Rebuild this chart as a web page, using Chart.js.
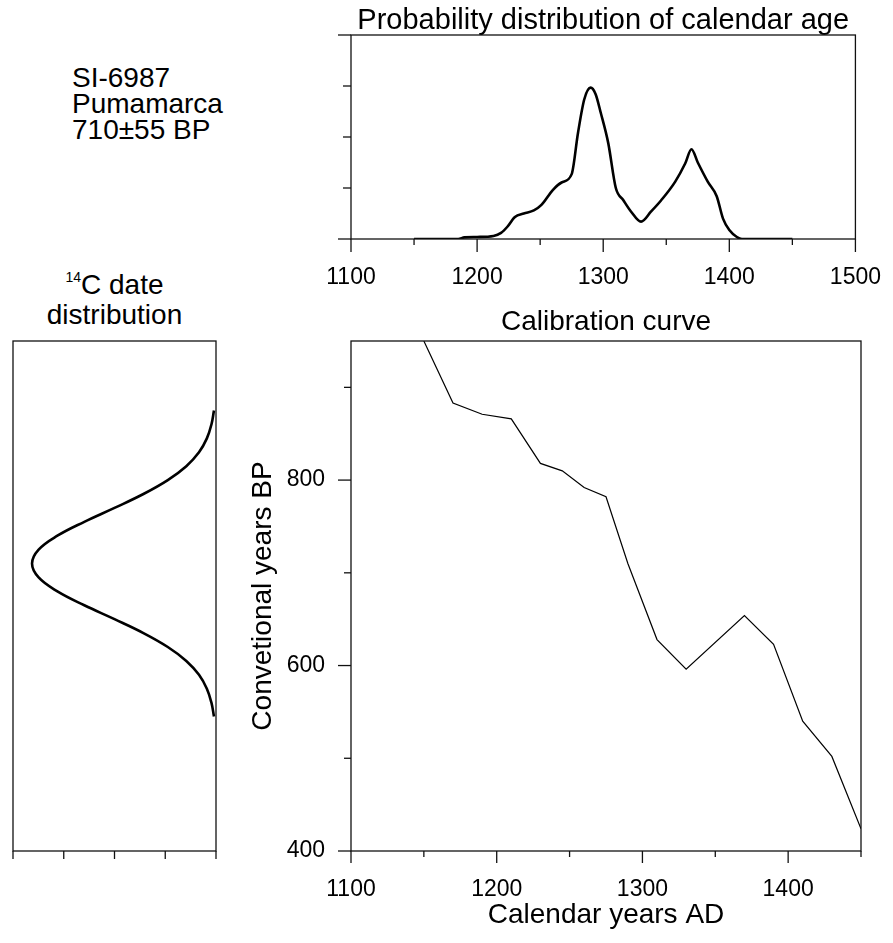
<!DOCTYPE html>
<html>
<head>
<meta charset="utf-8">
<script src="https://cdn.jsdelivr.net/npm/chart.js@4.4.1/dist/chart.umd.min.js"></script>
<style>
  body { margin: 0; background: #fff; width: 893px; height: 943px; position: relative; overflow: hidden;
         font-family: "Liberation Sans", Arial, sans-serif; color: #000; }
  canvas { position: absolute; }
  .txt { position: absolute; font-size: 28px; white-space: nowrap; }
  sup { font-size: 14px; line-height: 0; vertical-align: 12px; }
</style>
</head>
<body>
<div class="txt" style="left:72px; top:65px; line-height:26px;">SI-6987<br>Pumamarca<br>710±55 BP</div>
<div class="txt" style="left:0; width:229px; top:270px; line-height:30px; text-align:center;"><sup>14</sup>C date<br>distribution</div>
<canvas id="probChart" width="663" height="300" style="left:230px; top:0"></canvas>
<canvas id="c14Chart" width="230" height="643" style="left:0; top:300px"></canvas>
<canvas id="calChart" width="663" height="643" style="left:230px; top:300px"></canvas>
<script>
// probability of calendar age (relative, peak ~0.74 of axis)
const probYears = [1150, 1185, 1190, 1200, 1213, 1219, 1224, 1230, 1237, 1245, 1251, 1260, 1267, 1275,
  1280, 1285, 1290, 1294, 1298, 1304, 1310, 1316, 1322, 1330, 1338, 1346, 1357, 1365, 1370,
  1375, 1383, 1390, 1395, 1400, 1406, 1410, 1450];
const probValues = [0, 0, 0.008, 0.01, 0.015, 0.03, 0.06, 0.108, 0.125, 0.14, 0.167, 0.24, 0.277, 0.318,
  0.52, 0.685, 0.742, 0.71, 0.62, 0.47, 0.25, 0.19, 0.135, 0.085, 0.135, 0.19, 0.28, 0.37, 0.44,
  0.375, 0.28, 0.21, 0.10, 0.044, 0.01, 0, 0];

// 14C date distribution (710 +- 55 BP)
const c14Ages = [545, 560, 575, 590, 605, 620, 635, 650, 665, 680, 695, 710,
  725, 740, 755, 770, 785, 800, 815, 830, 845, 860, 875];
const c14Density = [0.00008, 0.00018, 0.00036, 0.00067, 0.00117, 0.00190, 0.00286, 0.00400, 0.00519, 0.00625, 0.00699, 0.00725,
  0.00699, 0.00625, 0.00519, 0.00400, 0.00286, 0.00190, 0.00117, 0.00067, 0.00036, 0.00018, 0.00008];

// calibration curve
const calYears = [1150, 1170, 1190, 1210, 1230, 1245, 1260, 1275, 1290, 1310, 1330, 1370, 1390, 1410, 1430, 1450];
const calAges = [950, 883, 871, 866, 818, 810, 792, 782, 710, 628, 596, 654, 623, 540, 502, 424];

Chart.defaults.font.family = '"Liberation Sans", Arial, sans-serif';
Chart.defaults.color = '#000';
Chart.defaults.animation = false;

// box round the plot area + outward tick marks of different lengths
function frameTicks(lengths) {
  return {
    id: 'frameTicks',
    afterDatasetsDraw(chart) {
      const { ctx, chartArea: a } = chart;
      ctx.save();
      ctx.strokeStyle = '#111';
      ctx.lineWidth = 1.3;
      ctx.strokeRect(a.left, a.top, a.width, a.height);
      for (const id in lengths) {
        const scale = chart.scales[id];
        for (const t of scale.ticks) {
          const p = scale.getPixelForValue(t.value);
          const len = lengths[id](t.value);
          ctx.beginPath();
          if (scale.isHorizontal()) { ctx.moveTo(p, a.bottom); ctx.lineTo(p, a.bottom + len); }
          else { ctx.moveTo(a.left, p); ctx.lineTo(a.left - len, p); }
          ctx.stroke();
        }
      }
      ctx.restore();
    }
  };
}

const noLegend = { legend: { display: false }, tooltip: { enabled: false } };

// top: probability distribution
new Chart(document.getElementById('probChart'), {
  type: 'scatter',
  data: {
    datasets: [{
      data: probYears.map((x, i) => ({ x, y: probValues[i] })),
      showLine: true, borderColor: '#000', borderWidth: 2.6, pointRadius: 0,
      cubicInterpolationMode: 'monotone'
    }]
  },
  options: {
    responsive: false,
    layout: { padding: { left: 0, right: 32, top: 0, bottom: 0 } },
    plugins: {
      ...noLegend,
      title: {
        display: true, fullSize: false, text: 'Probability distribution of calendar age',
        font: { size: 29, weight: 'normal', lineHeight: 1 }, padding: { top: 6, bottom: 0 }
      }
    },
    scales: {
      x: {
        type: 'linear', min: 1100, max: 1500,
        grid: { display: false, tickLength: 13 }, border: { display: false },
        ticks: { stepSize: 50, autoSkip: false, maxRotation: 0, padding: 12, font: { size: 23 },
                 callback: v => v % 100 === 0 ? String(v) : '' },
        afterFit: s => { s.height = 61; }
      },
      y: {
        min: 0, max: 1,
        grid: { display: false, tickLength: 13 }, border: { display: false },
        ticks: { stepSize: 0.25, callback: () => '' },
        afterFit: s => { s.width = 121; }
      }
    }
  },
  plugins: [frameTicks({ x: v => v % 100 === 0 ? 13 : 6, y: v => (v === 0 || v === 1) ? 13 : 8 })]
});

// left: 14C date distribution
new Chart(document.getElementById('c14Chart'), {
  type: 'scatter',
  data: {
    datasets: [{
      data: c14Ages.map((y, i) => ({ x: c14Density[i], y })),
      showLine: true, borderColor: '#000', borderWidth: 2.6, pointRadius: 0, tension: 0.4
    }]
  },
  options: {
    responsive: false,
    layout: { padding: { left: 13, right: 14, top: 41, bottom: 0 } },
    plugins: noLegend,
    scales: {
      x: {
        type: 'linear', reverse: true, min: 0, max: 0.008,
        grid: { display: false, tickLength: 8 }, border: { display: false },
        ticks: { stepSize: 0.002, autoSkip: false, callback: () => '' },
        afterFit: s => { s.height = 92; }
      },
      y: { display: false, min: 400, max: 950 }
    }
  },
  plugins: [frameTicks({ x: () => 8 })]
});

// main: calibration curve
new Chart(document.getElementById('calChart'), {
  type: 'scatter',
  data: {
    datasets: [{
      data: calYears.map((x, i) => ({ x, y: calAges[i] })),
      showLine: true, borderColor: '#000', borderWidth: 1.2, pointRadius: 0
    }]
  },
  options: {
    responsive: false,
    layout: { padding: { left: 0, right: 32, top: 0, bottom: 0 } },
    plugins: {
      ...noLegend,
      title: {
        display: true, fullSize: false, text: 'Calibration curve',
        font: { size: 28, weight: 'normal', lineHeight: 1 }, padding: { top: 8, bottom: 5 }
      }
    },
    scales: {
      x: {
        type: 'linear', min: 1100, max: 1450,
        grid: { display: false, tickLength: 12 }, border: { display: false },
        ticks: { stepSize: 50, autoSkip: false, maxRotation: 0, padding: 13, font: { size: 23 },
                 callback: v => v % 100 === 0 ? String(v) : '' },
        title: { display: true, text: 'Calendar years AD', font: { size: 28 }, padding: { top: 0, bottom: 11 } },
        afterFit: s => { s.height = 92; }
      },
      y: {
        min: 400, max: 950,
        grid: { display: false, tickLength: 13 }, border: { display: false },
        ticks: { stepSize: 100, includeBounds: false, padding: 13, font: { size: 23 },
                 callback: v => v % 200 === 0 ? String(v) : '' },
        title: { display: true, text: 'Convetional years BP', font: { size: 28 }, padding: { top: 16, bottom: 0 } },
        afterFit: s => { s.width = 121; }
      }
    }
  },
  plugins: [frameTicks({ x: v => v % 100 === 0 ? 12 : 6, y: v => v % 200 === 0 ? 13 : 7 })]
});
</script>
</body>
</html>
